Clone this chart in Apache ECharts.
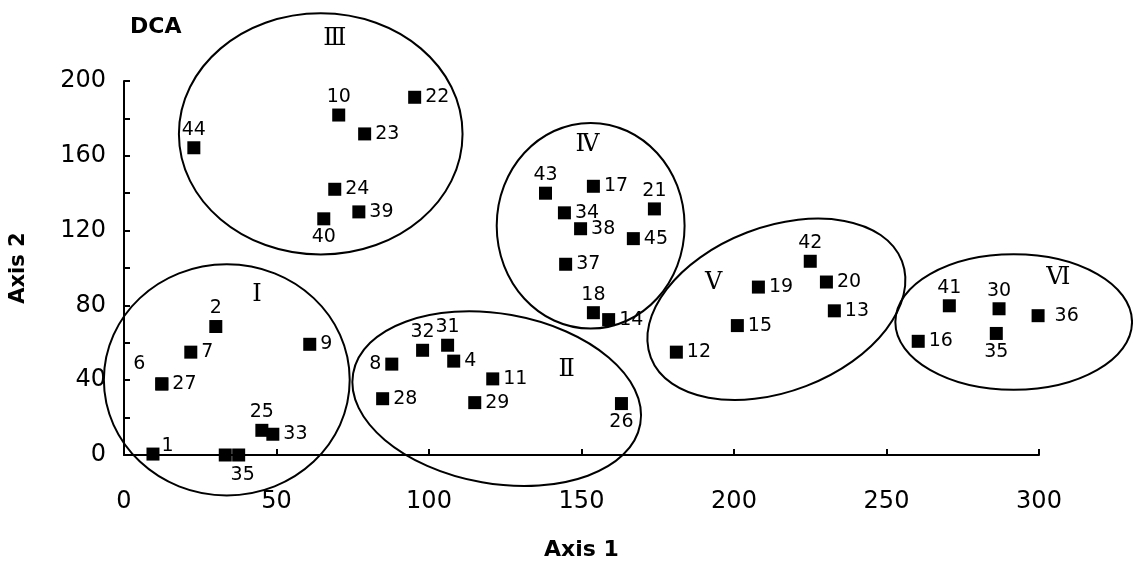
<!DOCTYPE html>
<html>
<head>
<meta charset="utf-8">
<script src="https://cdn.jsdelivr.net/npm/echarts@6/dist/echarts.min.js"></script>
<style>
html,body{margin:0;padding:0;background:#fff;}
#chart{width:1133px;height:566px;}
</style>
</head>
<body>
<div id="chart"></div>
<script>
// ---- data ----
const xTicks = [0, 50, 100, 150, 200, 250, 300];
const yTicks = [0, 40, 80, 120, 160, 200];

// site labels (text shown), axis 1 and axis 2 scores
const siteLabels = ['1','2','7','6','27','9','25','33','','35',
  '8','32','31','4','11','28','29','26',
  '44','10','22','23','24','39','40',
  '43','17','21','34','38','45','37','18','14',
  '42','19','20','13','15','12',
  '41','30','36','16','35'];
const siteX = [9.5, 30.1, 21.9, 12.4, 12.4, 60.9, 45.2, 48.8, 33.2, 37.6,
  87.8, 97.9, 106.1, 108.1, 120.9, 84.8, 115.0, 163.1,
  22.9, 70.4, 95.3, 78.9, 69.1, 77.0, 65.5,
  138.2, 153.9, 173.9, 144.4, 149.7, 167.0, 144.8, 153.9, 158.9,
  225.0, 208.0, 230.3, 232.9, 201.1, 181.1,
  270.6, 286.9, 299.7, 260.4, 286.0];
const siteY = [0.5, 68.7, 55.0, 38.0, 38.0, 59.2, 13.2, 11.1, 0, 0,
  48.6, 56.0, 58.7, 50.2, 40.7, 30.1, 28.0, 27.5,
  164.3, 181.8, 191.3, 171.7, 142.1, 130.0, 126.3,
  140.0, 143.7, 131.6, 129.5, 121.0, 115.7, 102.0, 76.1, 72.4,
  103.6, 89.8, 92.5, 77.1, 69.2, 55.0,
  79.8, 78.2, 74.5, 60.8, 65.0];

// cluster ellipses: centre (axis units), semi-axes (axis units), tilt (deg, counter-clockwise)
const groupNames = ['Ⅰ','Ⅱ','Ⅲ','Ⅳ','Ⅴ','Ⅵ'];
const groupCX = [33.7, 122.2, 64.5, 153.0, 213.9, 291.7];
const groupCY = [40.2, 30.1, 171.7, 122.6, 77.9, 71.1];
const groupRX = [40.3, 47.8, 46.5, 30.8, 44.1, 38.8];
const groupRY = [61.8, 45.4, 64.5, 55.0, 44.0, 36.2];
const groupTilt = [0, -10, 0, 0, 21, 0];
// roman numeral label positions
const groupLabelX = [43.6, 145.1, 69.1, 152.0, 193.3, 306.3];
const groupLabelY = [85.6, 45.4, 222.5, 165.9, 91.9, 94.6];

// ---- label placement (style) ----
const placeTop = new Set(['2','25','32','31','44','10','43','21','18','42','41','30']);
const placeBottom = new Set(['35','26','40']);
const placeLeft = new Set(['8']);

const numFont = 'DejaVu Sans';

const pts = siteX.map((x, i) => {
  const t = siteLabels[i];
  let label = { show: t !== '', formatter: t, position: 'right', distance: 4 };
  if (placeTop.has(t)) label = { show: true, formatter: t, position: 'top', distance: 2 };
  if (placeBottom.has(t)) label = { show: true, formatter: t, position: 'bottom', distance: 2 };
  if (placeLeft.has(t)) label = { show: true, formatter: t, position: 'left', distance: 4 };
  if (t === '1') label = { show: true, formatter: t, position: 'right', distance: 2, offset: [0, -8] };
  if (t === '6') label = { show: true, formatter: t, position: 'left', distance: 10, offset: [0, -20] };
  if (t === '36') label = { show: true, formatter: t, position: 'right', distance: 10 };
  if (siteX[i] > 280 && t === '35') label = { show: true, formatter: t, position: 'bottom', distance: 3 };
  if (t === '35' && siteX[i] < 50) label = { show: true, formatter: t, position: 'bottom', distance: 4, offset: [4, 0] };
  return { value: [x, siteY[i]], label };
});

const ellipses = groupCX.map((cx, i) => [cx, groupCY[i], groupRX[i], groupRY[i], groupTilt[i]]);
const romans = groupLabelX.map((x, i) => ({ value: [x, groupLabelY[i]], label: { formatter: groupNames[i] } }));

const chart = echarts.init(document.getElementById('chart'));
chart.setOption({
  animation: false,
  backgroundColor: '#fff',
  grid: { left: 123, right: 94, top: 81, bottom: 107, containLabel: false },
  xAxis: {
    type: 'value', min: 0, max: 300, interval: 50,
    name: 'Axis 1', nameLocation: 'middle', nameGap: 84,
    nameTextStyle: { fontFamily: numFont, fontWeight: 'bold', fontSize: 22, color: '#000' },
    axisLine: { show: true, onZero: true, lineStyle: { color: '#000', width: 2 } },
    axisTick: { show: true, inside: true, length: 6, lineStyle: { color: '#000', width: 2 } },
    axisLabel: { margin: 35, fontFamily: numFont, fontSize: 24, color: '#000',
      formatter: v => xTicks.includes(v) ? String(v) : '' },
    splitLine: { show: false }
  },
  yAxis: {
    type: 'value', min: 0, max: 200, interval: 20,
    name: 'Axis 2', nameLocation: 'middle', nameGap: 95, nameRotate: 90,
    nameTextStyle: { fontFamily: numFont, fontWeight: 'bold', fontSize: 21, color: '#000' },
    axisLine: { show: true, lineStyle: { color: '#000', width: 2 } },
    axisTick: { show: true, inside: true, length: 6, lineStyle: { color: '#000', width: 2 } },
    axisLabel: { margin: 18, fontFamily: numFont, fontSize: 24, color: '#000',
      formatter: v => yTicks.includes(v) ? String(v) : '' },
    splitLine: { show: false }
  },
  graphic: [{
    type: 'text', left: 130, top: 16,
    style: { text: 'DCA', fontFamily: numFont, fontWeight: 'bold', fontSize: 22, fill: '#000' }
  }],
  series: [
    {
      type: 'custom',
      clip: false,
      z: 3,
      data: ellipses,
      renderItem: function (params, api) {
        const c = api.coord([api.value(0), api.value(1)]);
        const rx = api.size([api.value(2), 0])[0];
        const ry = api.size([0, api.value(3)])[1];
        const rot = api.value(4) * Math.PI / 180;
        return {
          type: 'ellipse',
          x: c[0], y: c[1], rotation: rot,
          shape: { cx: 0, cy: 0, rx: rx, ry: ry },
          style: { fill: 'none', stroke: '#000', lineWidth: 2 }
        };
      }
    },
    {
      type: 'scatter',
      symbol: 'rect',
      symbolSize: 13,
      z: 4,
      clip: false,
      itemStyle: { color: '#000', opacity: 1 },
      label: { color: '#000', fontFamily: numFont, fontSize: 19 },
      data: pts
    },
    {
      type: 'scatter',
      symbolSize: 0,
      z: 4,
      clip: false,
      itemStyle: { opacity: 1 },
      label: { show: true, position: 'inside', color: '#000', fontFamily: 'DejaVu Serif', fontSize: 24 },
      data: romans
    }
  ]
});
</script>
</body>
</html>
